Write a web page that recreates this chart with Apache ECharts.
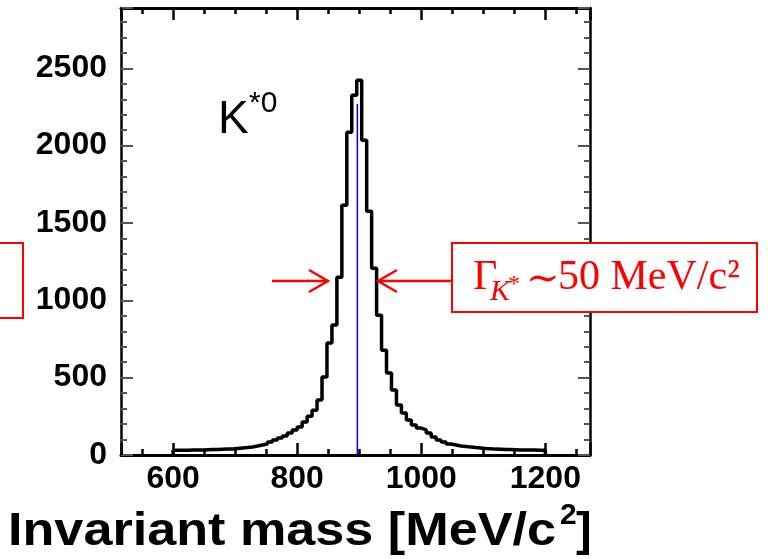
<!DOCTYPE html>
<html>
<head>
<meta charset="utf-8">
<script src="https://cdn.jsdelivr.net/npm/echarts@6/dist/echarts.min.js"></script>
<style>
html, body { margin: 0; padding: 0; background: #fff; }
#main { width: 768px; height: 559px; }
</style>
</head>
<body>
<div id="main"></div>
<script>
// K*0 invariant mass histogram, 8 MeV bins starting at 600 MeV
const binLow = 600;
const binWidth = 8;
const counts = [
    30, 30, 31, 32, 32, 33, 34, 35, 36, 37,
    38, 39, 42, 45, 48, 52, 58, 65, 71, 84,
    97, 110, 123, 142, 162, 181, 213, 250, 290, 355,
    504, 724, 840, 1150, 1615, 2087, 2326, 2423, 2035, 1576,
    1208, 904, 678, 530, 420, 323, 271, 226, 194, 174,
    162, 142, 116, 97, 84, 71, 65, 58, 55, 52,
    48, 45, 42, 40, 38, 37, 36, 35, 34, 33,
    33, 32, 32, 31, 30
];
const peakMass = 897;      // blue marker line
const peakLineTop = 2270;

const xRange = [516, 1272];
const yRange = [0, 2890];
const yTickStep = 500;

const labelFont = { color: '#000', fontSize: 32, fontWeight: 'bold', fontFamily: 'Liberation Sans, Arial, sans-serif' };

function xAxisOf(pos, withLabel) {
    return {
        type: 'value', position: pos, min: xRange[0], max: xRange[1],
        axisLine: { show: true, onZero: false, lineStyle: { color: '#000', width: 3 } },
        axisTick: { show: true, inside: true, length: 12, lineStyle: { color: '#000', width: 2.5 } },
        minorTick: { show: true, splitNumber: 4, length: 6, lineStyle: { color: '#000', width: 2.5 } },
        axisLabel: {
            show: withLabel, margin: 8, showMinLabel: false, showMaxLabel: false,
            color: labelFont.color, fontSize: labelFont.fontSize,
            fontWeight: labelFont.fontWeight, fontFamily: labelFont.fontFamily,
            formatter: function (v) { return String(v); }
        },
        splitLine: { show: false }
    };
}

function yAxisOf(pos, withLabel) {
    return {
        type: 'value', position: pos, min: yRange[0], max: yRange[1], interval: yTickStep,
        axisLine: { show: true, onZero: false, lineStyle: { color: '#000', width: 2.5 } },
        axisTick: { show: true, inside: true, length: 12, lineStyle: { color: '#555', width: 2 } },
        minorTick: { show: true, splitNumber: 5, length: 6, lineStyle: { color: '#555', width: 2 } },
        axisLabel: {
            show: withLabel, margin: 14, showMaxLabel: false,
            color: labelFont.color, fontSize: labelFont.fontSize,
            fontWeight: labelFont.fontWeight, fontFamily: labelFont.fontFamily,
            formatter: function (v) { return String(v); }
        },
        splitLine: { show: false }
    };
}

// step histogram points: left edges, then close down to zero at the end
const histData = [[binLow, 0]];
counts.forEach(function (c, i) { histData.push([binLow + i * binWidth, c]); });
histData.push([binLow + counts.length * binWidth, counts[counts.length - 1]]);
histData.push([binLow + counts.length * binWidth, 0]);

const red = '#ff0000';
const serif = '"Liberation Serif", "DejaVu Serif", serif';

var chart = echarts.init(document.getElementById('main'));
var option = {
    animation: false,
    grid: { left: 121, right: 178, top: 8, bottom: 104 },
    xAxis: [xAxisOf('bottom', true), xAxisOf('top', false)],
    yAxis: [yAxisOf('left', true), yAxisOf('right', false)],
    series: [
        {
            type: 'line', step: 'end', data: histData,
            symbol: 'none', lineStyle: { color: '#000', width: 3.5 }
        },
        {
            type: 'line', data: [[peakMass, 0], [peakMass, peakLineTop]],
            symbol: 'none', lineStyle: { color: '#0000ff', width: 1.5 }, z: 5
        }
    ],
    graphic: [
        // K*0 label
        { type: 'text', x: 218, y: 120, style: { text: 'K', font: 'normal 46px "Liberation Sans", Arial', fill: '#000', verticalAlign: 'middle' } },
        { type: 'text', x: 249, y: 104, style: { text: '*0', font: 'normal 30px "Liberation Sans", Arial', fill: '#000', verticalAlign: 'middle' } },
        // axis title
        { type: 'text', x: 8, y: 532, scaleX: 1.11, style: { text: 'Invariant mass [MeV/c', font: 'bold 47px "Liberation Sans", Arial', fill: '#000', verticalAlign: 'middle' } },
        { type: 'text', x: 560, y: 516, style: { text: '2', font: 'bold 30px "Liberation Sans", Arial', fill: '#000', verticalAlign: 'middle' } },
        { type: 'text', x: 576, y: 532, style: { text: ']', font: 'bold 47px "Liberation Sans", Arial', fill: '#000', verticalAlign: 'middle' } },
        // FWHM arrows
        { type: 'line', z: 100, shape: { x1: 272, y1: 281, x2: 327, y2: 281 }, style: { stroke: red, lineWidth: 2.5 } },
        { type: 'polyline', z: 100, shape: { points: [[309, 270], [328, 281], [309, 292]] }, style: { stroke: red, lineWidth: 2.5, fill: null } },
        { type: 'line', z: 100, shape: { x1: 379, y1: 281, x2: 452, y2: 281 }, style: { stroke: red, lineWidth: 2.5 } },
        { type: 'polyline', z: 100, shape: { points: [[397, 270], [378, 281], [397, 292]] }, style: { stroke: red, lineWidth: 2.5, fill: null } },
        // boxes
        { type: 'rect', z: 100, shape: { x: -5, y: 243, width: 28, height: 75 }, style: { stroke: red, lineWidth: 2, fill: '#fff' } },
        { type: 'rect', z: 100, shape: { x: 452, y: 243, width: 305, height: 69 }, style: { stroke: red, lineWidth: 2, fill: '#fff' } },
        // width text
        { type: 'text', z: 101, x: 473, y: 278, style: { text: 'Γ', font: 'normal 42px ' + serif, fill: red, verticalAlign: 'middle' } },
        { type: 'text', z: 101, x: 490, y: 292, style: { text: 'K', font: 'italic 30px ' + serif, fill: red, verticalAlign: 'middle' } },
        { type: 'text', z: 101, x: 508, y: 285, style: { text: '*', font: 'normal 24px ' + serif, fill: red, verticalAlign: 'middle' } },
        { type: 'text', z: 101, x: 526, y: 281, style: { text: '∼', font: 'normal 40px "DejaVu Serif", serif', fill: red, verticalAlign: 'middle' } },
        { type: 'text', z: 101, x: 558, y: 278, style: { text: '50 MeV/c²', font: 'normal 42px ' + serif, fill: red, verticalAlign: 'middle' } }
    ]
};
option && chart.setOption(option);
</script>
</body>
</html>
